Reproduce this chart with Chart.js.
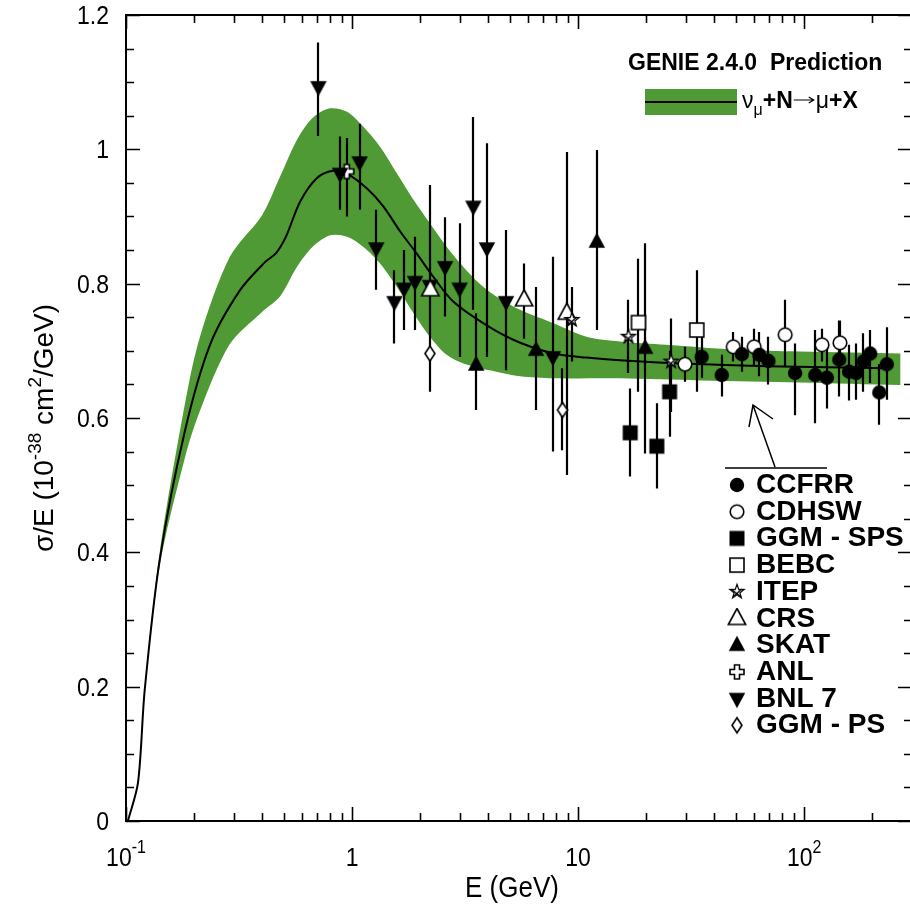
<!DOCTYPE html>
<html><head><meta charset="utf-8">
<script src="https://cdn.jsdelivr.net/npm/chart.js@4/dist/chart.umd.min.js"></script>
<style>html,body{margin:0;padding:0;overflow:hidden;background:#fff;width:910px;height:911px}canvas{display:block}</style>
</head><body><canvas id="c" width="913" height="911"></canvas>
<script>
// ---------- model prediction (GENIE 2.4.0) ----------
const modelE = [0.102, 0.113, 0.121, 0.141, 0.182, 0.236, 0.319, 0.412, 0.46, 0.51, 0.589, 0.698, 0.824, 0.948, 1.162, 1.375, 1.63, 1.93, 2.29, 2.81, 3.94, 5.54, 7.78, 10.9, 15.3, 29.2, 68.4, 232];
const modelV = [0.0, 0.057, 0.195, 0.389, 0.58, 0.71, 0.79, 0.832, 0.845, 0.87, 0.922, 0.957, 0.968, 0.964, 0.942, 0.915, 0.878, 0.845, 0.810, 0.773, 0.738, 0.712, 0.696, 0.690, 0.686, 0.681, 0.677, 0.674];
const bandHiE = [0.102, 0.113, 0.121, 0.141, 0.182, 0.212, 0.288, 0.40, 0.48, 0.57, 0.67, 0.80, 0.95, 1.12, 1.33, 1.58, 1.87, 2.21, 2.62, 3.11, 3.67, 4.35, 5.54, 7.78, 10.9, 15.3, 24.5, 48.6, 96.2, 267];
const bandHiV = [0.0, 0.058, 0.198, 0.40, 0.62, 0.72, 0.84, 0.902, 0.959, 1.014, 1.047, 1.061, 1.056, 1.034, 1.004, 0.964, 0.925, 0.890, 0.855, 0.825, 0.800, 0.781, 0.761, 0.741, 0.721, 0.714, 0.709, 0.702, 0.699, 0.696];
const bandLoE = [0.102, 0.113, 0.121, 0.141, 0.182, 0.212, 0.288, 0.40, 0.48, 0.57, 0.67, 0.80, 0.95, 1.12, 1.33, 1.58, 1.87, 2.21, 2.62, 3.11, 3.67, 4.35, 5.54, 7.78, 15.3, 34.9, 96.2, 267];
const bandLoV = [0.0, 0.056, 0.192, 0.38, 0.54, 0.61, 0.71, 0.758, 0.781, 0.825, 0.855, 0.872, 0.870, 0.855, 0.830, 0.795, 0.756, 0.721, 0.694, 0.681, 0.674, 0.669, 0.662, 0.659, 0.659, 0.656, 0.653, 0.649];

// ---------- measurements: E (GeV), sigma/E, error low, error high ----------
const ccfrrE  = [35.2, 43.2, 53.0, 63.4, 69.5, 91.2, 112, 126, 143, 158, 170, 183, 196, 215, 232];
const ccfrrV  = [0.691, 0.664, 0.695, 0.694, 0.685, 0.667, 0.664, 0.660, 0.687, 0.669, 0.667, 0.684, 0.696, 0.638, 0.680];
const ccfrrLo = [0.660, 0.632, 0.669, 0.662, 0.650, 0.604, 0.592, 0.614, 0.632, 0.626, 0.627, 0.639, 0.652, 0.590, 0.627];
const ccfrrHi = [0.722, 0.694, 0.721, 0.728, 0.721, 0.711, 0.731, 0.706, 0.745, 0.709, 0.711, 0.726, 0.731, 0.680, 0.735];

const cdhswE  = [29.7, 48.6, 60.1, 82.4, 120, 144];
const cdhswV  = [0.680, 0.706, 0.706, 0.724, 0.709, 0.712];
const cdhswLo = [0.654, 0.684, 0.679, 0.677, 0.684, 0.684];
const cdhswHi = [0.706, 0.728, 0.733, 0.776, 0.733, 0.745];

const ggmspsE  = [17.0, 22.3, 25.4];
const ggmspsV  = [0.578, 0.558, 0.639];
const ggmspsLo = [0.513, 0.495, 0.572];
const ggmspsHi = [0.644, 0.622, 0.700];

const bebcE  = [18.5, 33.5];
const bebcV  = [0.742, 0.731];
const bebcLo = [0.639, 0.639];
const bebcHi = [0.837, 0.820];

const itepE  = [9.38, 16.7, 25.8];
const itepV  = [0.746, 0.721, 0.684];
const itepLo = [0.684, 0.667, 0.609];
const itepHi = [0.795, 0.776, 0.748];

const crsE  = [2.22, 5.77, 8.91];
const crsV  = [0.791, 0.776, 0.756];
const crsLo = [0.657, 0.718, 0.515];
const crsHi = [0.947, 0.830, 0.996];

const skatE  = [3.54, 6.52, 12.1, 19.8];
const skatV  = [0.679, 0.701, 0.862, 0.704];
const skatLo = [0.612, 0.612, 0.731, 0.547];
const skatHi = [0.756, 0.795, 0.999, 0.860];

const anlE  = [0.947];
const anlV  = [0.967];
const anlLo = [0.900];
const anlHi = [1.017];

const bnlE  = [0.71, 0.885, 1.08, 1.28, 1.54, 1.70, 1.90, 2.21, 2.58, 2.99, 3.44, 3.95, 4.80, 7.73];
const bnlV  = [1.093, 0.964, 0.981, 0.853, 0.773, 0.793, 0.803, 0.797, 0.825, 0.793, 0.915, 0.853, 0.773, 0.691];
const bnlLo = [1.020, 0.910, 0.910, 0.791, 0.711, 0.731, 0.731, 0.700, 0.751, 0.691, 0.761, 0.691, 0.671, 0.550];
const bnlHi = [1.159, 1.019, 1.038, 0.910, 0.820, 0.850, 0.870, 0.880, 0.899, 0.890, 1.048, 1.009, 0.880, 0.840];

const ggmpsE  = [2.21, 8.53];
const ggmpsV  = [0.696, 0.612];
const ggmpsLo = [0.639, 0.552];
const ggmpsHi = [0.757, 0.674];

// ---------- labels ----------
const seriesNames = ['CCFRR', 'CDHSW', 'GGM - SPS', 'BEBC', 'ITEP', 'CRS', 'SKAT', 'ANL', 'BNL 7', 'GGM - PS'];
const yTickVals = [0, 0.2, 0.4, 0.6, 0.8, 1, 1.2];
const yTickLabels = ['0', '0.2', '0.4', '0.6', '0.8', '1', '1.2'];
const xTickVals = [0.1, 1, 10, 100];
const xTickBase = ['10', '1', '10', '10'];
const xTickSup  = ['-1', '', '', '2'];
const titleText = 'GENIE 2.4.0  Prediction';

// ---------- marker images ----------
const FONT = '"Liberation Sans", Arial, sans-serif';
const GREEN = '#4f9a34';
function mk(draw, w, h) {
  const c = document.createElement('canvas');
  c.width = w || 22; c.height = h || 22;
  const g = c.getContext('2d');
  g.translate(c.width / 2, c.height / 2);
  g.strokeStyle = '#000'; g.fillStyle = '#000'; g.lineWidth = 1.6; g.lineJoin = 'miter';
  draw(g);
  return c;
}
function triPath(g, r, down) {
  const s = down ? -1 : 1;
  g.beginPath();
  g.moveTo(0, -s * r);
  g.lineTo(r * 0.866, s * r * 0.6);
  g.lineTo(-r * 0.866, s * r * 0.6);
  g.closePath();
}
const M = {
  fcirc: mk(g => { g.beginPath(); g.arc(0, 0, 7.2, 0, 2 * Math.PI); g.fill(); }),
  ocirc: mk(g => { g.beginPath(); g.arc(0, 0, 6.8, 0, 2 * Math.PI); g.fillStyle = '#fff'; g.fill(); g.stroke(); }),
  fsq: mk(g => { g.fillRect(-7.5, -7.5, 15, 15); }),
  osq: mk(g => { g.fillStyle = '#fff'; g.fillRect(-7, -7, 14, 14); g.strokeRect(-7, -7, 14, 14); }),
  star: mk(g => {
    g.lineWidth = 1.2; g.beginPath();
    for (let i = 0; i < 10; i++) {
      const r = i % 2 ? 3 : 7.5, a = -Math.PI / 2 + i * Math.PI / 5;
      const px = r * Math.cos(a), py = r * Math.sin(a);
      i ? g.lineTo(px, py) : g.moveTo(px, py);
    }
    g.closePath(); g.fillStyle = '#fff'; g.fill(); g.stroke();
    g.beginPath(); g.moveTo(-5, -2); g.lineTo(4, 5); g.moveTo(-4, 5); g.lineTo(5, -3); g.stroke();
  }),
  otri: mk(g => { triPath(g, 10, false); g.fillStyle = '#fff'; g.fill(); g.stroke(); }),
  ftri: mk(g => { triPath(g, 9.5, false); g.fill(); }),
  oplus: mk(g => {
    const a = 2.5, b = 7; g.beginPath();
    g.moveTo(-a, -b); g.lineTo(a, -b); g.lineTo(a, -a); g.lineTo(b, -a); g.lineTo(b, a); g.lineTo(a, a);
    g.lineTo(a, b); g.lineTo(-a, b); g.lineTo(-a, a); g.lineTo(-b, a); g.lineTo(-b, -a); g.lineTo(-a, -a); g.closePath();
    g.fillStyle = '#fff'; g.fill(); g.stroke();
  }),
  dtri: mk(g => { triPath(g, 9.5, true); g.fill(); }),
  odia: mk(g => {
    g.beginPath(); g.moveTo(0, -7.5); g.lineTo(5, 0); g.lineTo(0, 7.5); g.lineTo(-5, 0); g.closePath();
    g.fillStyle = '#fff'; g.fill(); g.stroke();
  })
};

const series = [
  { name: seriesNames[0], E: ccfrrE, V: ccfrrV, lo: ccfrrLo, hi: ccfrrHi, m: M.fcirc },
  { name: seriesNames[1], E: cdhswE, V: cdhswV, lo: cdhswLo, hi: cdhswHi, m: M.ocirc },
  { name: seriesNames[2], E: ggmspsE, V: ggmspsV, lo: ggmspsLo, hi: ggmspsHi, m: M.fsq },
  { name: seriesNames[3], E: bebcE, V: bebcV, lo: bebcLo, hi: bebcHi, m: M.osq },
  { name: seriesNames[4], E: itepE, V: itepV, lo: itepLo, hi: itepHi, m: M.star },
  { name: seriesNames[5], E: crsE, V: crsV, lo: crsLo, hi: crsHi, m: M.otri },
  { name: seriesNames[6], E: skatE, V: skatV, lo: skatLo, hi: skatHi, m: M.ftri },
  { name: seriesNames[7], E: anlE, V: anlV, lo: anlLo, hi: anlHi, m: M.oplus },
  { name: seriesNames[8], E: bnlE, V: bnlV, lo: bnlLo, hi: bnlHi, m: M.dtri },
  { name: seriesNames[9], E: ggmpsE, V: ggmpsV, lo: ggmpsLo, hi: ggmpsHi, m: M.odia }
];
const pts = (E, V) => E.map((e, i) => ({ x: e, y: V[i] }));

const datasets = series.map((s, i) => ({
  type: 'scatter', label: s.name, data: pts(s.E, s.V),
  pointStyle: s.m, pointRadius: 7, showLine: false, order: i === 7 ? 3 : 0
}));
datasets.push({ type: 'line', label: 'model', order: 4, data: pts(modelE, modelV), borderColor: '#000', borderWidth: 2, pointRadius: 0, tension: 0.3, fill: false });
datasets.push({ type: 'line', label: 'bandHi', order: 5, data: pts(bandHiE, bandHiV), borderWidth: 0, borderColor: GREEN, pointRadius: 0, tension: 0.3, fill: { target: '+1' }, backgroundColor: GREEN });
datasets.push({ type: 'line', label: 'bandLo', order: 5, data: pts(bandLoE, bandLoV), borderWidth: 0, borderColor: GREEN, pointRadius: 0, tension: 0.3, fill: false });
const FIRST_MARKER_DRAWN = 7; // ANL is drawn first among the markers

function text(ctx, s, x, y, font, align, sy) {
  ctx.save(); ctx.font = font; ctx.textAlign = align || 'left'; ctx.textBaseline = 'alphabetic';
  ctx.translate(x, y); ctx.scale(1, sy || 1); ctx.fillText(s, 0, 0); ctx.restore();
}

const decor = {
  id: 'decor',
  beforeDatasetDraw(chart, args) {
    if (args.index !== FIRST_MARKER_DRAWN) return;
    const ctx = chart.ctx, xs = chart.scales.x, ys = chart.scales.y;
    ctx.save(); ctx.strokeStyle = '#000'; ctx.lineWidth = 2.2; ctx.beginPath();
    series.forEach(s => s.E.forEach((e, i) => {
      const px = Math.round(xs.getPixelForValue(e));
      ctx.moveTo(px, ys.getPixelForValue(s.lo[i]));
      ctx.lineTo(px, ys.getPixelForValue(s.hi[i]));
    }));
    ctx.stroke(); ctx.restore();
  },
  afterDraw(chart) {
    const ctx = chart.ctx, xs = chart.scales.x, ys = chart.scales.y, a = chart.chartArea;
    ctx.save();
    ctx.strokeStyle = '#000'; ctx.fillStyle = '#000'; ctx.lineWidth = 2;
    ctx.strokeRect(a.left, a.top, a.right - a.left, a.bottom - a.top);
    ctx.lineWidth = 1.6; ctx.beginPath();
    for (let v = 0; v <= 1.2001; v += 0.05) {
      const py = Math.round(ys.getPixelForValue(v)) + 0.5;
      const major = Math.abs(v / 0.2 - Math.round(v / 0.2)) < 1e-6;
      const L = major ? 14 : 8;
      ctx.moveTo(a.left, py); ctx.lineTo(a.left + L, py);
      ctx.moveTo(a.right, py); ctx.lineTo(a.right - L, py);
    }
    for (let d = -1; d <= 2; d++) {
      for (let k = 1; k <= 9; k++) {
        const v = k * Math.pow(10, d);
        if (v > 300.0001) break;
        const px = Math.round(xs.getPixelForValue(v)) + 0.5;
        const L = k === 1 ? 14 : 8;
        ctx.moveTo(px, a.bottom); ctx.lineTo(px, a.bottom - L);
        ctx.moveTo(px, a.top); ctx.lineTo(px, a.top + L);
      }
    }
    ctx.stroke();

    yTickVals.forEach((v, i) => {
      text(ctx, yTickLabels[i], a.left - 17, ys.getPixelForValue(v) + 9, '23px ' + FONT, 'right', 1.15);
    });
    xTickVals.forEach((v, i) => {
      const px = xs.getPixelForValue(v);
      ctx.font = '23px ' + FONT;
      const wb = ctx.measureText(xTickBase[i]).width;
      ctx.font = '16px ' + FONT;
      const ws = xTickSup[i] ? ctx.measureText(xTickSup[i]).width : 0;
      const x0 = px - (wb + ws) / 2;
      text(ctx, xTickBase[i], x0, 866, '23px ' + FONT, 'left', 1.15);
      if (ws) text(ctx, xTickSup[i], x0 + wb, 853, '16px ' + FONT, 'left', 1.15);
    });
    text(ctx, 'E (GeV)', 512, 897, '26px ' + FONT, 'center', 1.1);
    // y title (rotated)
    ctx.save();
    ctx.translate(53, 428); ctx.rotate(-Math.PI / 2);
    const parts = [['σ/E (10', 28, 0], ['-38', 19, -12], [' cm', 28, 0], ['2', 19, -12], ['/GeV)', 28, 0]];
    let tw = 0;
    parts.forEach(p => { ctx.font = p[1] + 'px ' + FONT; tw += ctx.measureText(p[0]).width; });
    let cx = -tw / 2;
    parts.forEach(p => { ctx.font = p[1] + 'px ' + FONT; ctx.fillText(p[0], cx, p[2]); cx += ctx.measureText(p[0]).width; });
    ctx.restore();

    // top legend
    text(ctx, titleText, 628, 70, 'bold 23px ' + FONT, 'left');
    ctx.fillStyle = GREEN; ctx.fillRect(645, 89, 92, 26);
    ctx.fillStyle = '#000';
    ctx.lineWidth = 2; ctx.beginPath(); ctx.moveTo(645, 102); ctx.lineTo(737, 102); ctx.stroke();
    let lx = 742;
    ctx.font = '23px ' + FONT; ctx.fillText('ν', lx, 108); lx += ctx.measureText('ν').width;
    ctx.font = '16px ' + FONT; ctx.fillText('μ', lx, 115); lx += ctx.measureText('μ').width;
    ctx.font = 'bold 23px ' + FONT; ctx.fillText('+N', lx, 108); lx += ctx.measureText('+N').width + 1;
    // arrow glyph
    ctx.lineWidth = 1.2; ctx.beginPath();
    ctx.moveTo(lx, 100); ctx.lineTo(lx + 20, 100);
    ctx.moveTo(lx + 15, 97); ctx.lineTo(lx + 20, 100); ctx.lineTo(lx + 15, 103);
    ctx.stroke(); lx += 22;
    ctx.font = '23px ' + FONT; ctx.fillText('μ', lx, 108); lx += ctx.measureText('μ').width;
    ctx.font = 'bold 23px ' + FONT; ctx.fillText('+X', lx, 108);

    // bottom legend: arrow + rule
    ctx.lineWidth = 1.5; ctx.beginPath();
    ctx.moveTo(725, 468); ctx.lineTo(827, 468);
    ctx.moveTo(775, 467); ctx.lineTo(753, 405);
    ctx.moveTo(749, 427); ctx.lineTo(753, 405); ctx.lineTo(773, 419);
    ctx.stroke();
    series.forEach((s, i) => {
      const base = 493 + i * 26.7;
      ctx.drawImage(s.m, 737 - s.m.width / 2, base - 8 - s.m.height / 2);
      text(ctx, s.name, 756, base, 'bold 28px ' + FONT, 'left');
    });
    ctx.restore();
  }
};

new Chart(document.getElementById('c'), {
  data: { datasets },
  options: {
    responsive: false, animation: false, devicePixelRatio: 1,
    layout: { padding: { top: 15, right: 1, left: 0, bottom: 0 }, autoPadding: false },
    plugins: { legend: { display: false }, tooltip: { enabled: false } },
    scales: {
      x: { type: 'logarithmic', min: 0.1, max: 300, grid: { display: false }, border: { display: false },
           ticks: { display: false }, afterFit: s => { s.height = 90; } },
      y: { type: 'linear', min: 0, max: 1.2, grid: { display: false }, border: { display: false },
           ticks: { display: false }, afterFit: s => { s.width = 126; } }
    }
  },
  plugins: [decor]
});
</script>
</body></html>
